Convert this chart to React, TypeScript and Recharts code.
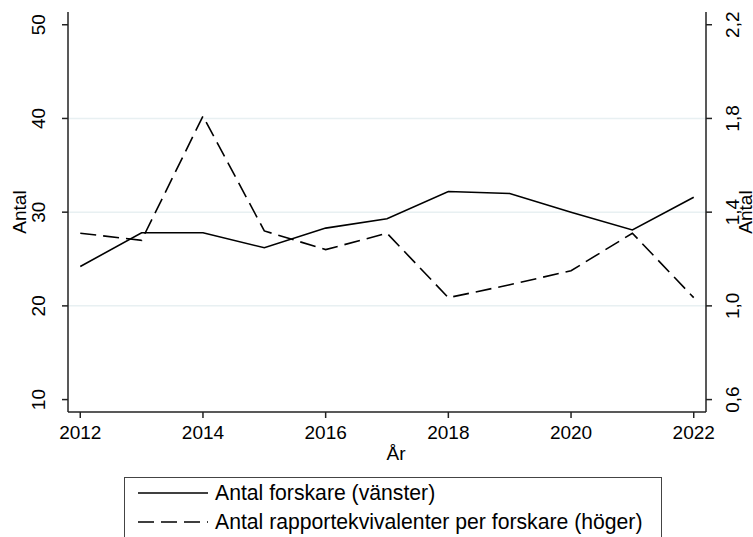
import { LineChart, Line, XAxis, YAxis, ReferenceLine, Legend } from 'recharts'

const years = [2012, 2013, 2014, 2015, 2016, 2017, 2018, 2019, 2020, 2021, 2022]
const forskare = [24.2, 27.8, 27.8, 26.2, 28.3, 29.3, 32.2, 32.0, 30.0, 28.1, 31.6]
const rapportPerForskare = [1.31, 1.28, 1.81, 1.32, 1.24, 1.31, 1.035, 1.09, 1.15, 1.31, 1.035]

const xTicks = [2012, 2014, 2016, 2018, 2020, 2022]
const leftTicks = [10, 20, 30, 40, 50]
const rightTicks = [0.6, 1.0, 1.4, 1.8, 2.2]
const gridValues = [20, 30, 40]

const seriesNames = ['Antal forskare (vänster)', 'Antal rapportekvivalenter per forskare (höger)']

const data = years.map((year, i) => ({
  year,
  forskare: forskare[i],
  rapport: rapportPerForskare[i],
}))

const FONT = "Arial, 'Liberation Sans', sans-serif"
const AXIS = '#222'
const DASH = '16 7'

const fmtComma = (v: number) => v.toFixed(1).replace('.', ',')

function LeftTick({ y, payload }: any) {
  return (
    <text transform={`translate(45,${y}) rotate(-90)`} textAnchor="middle"
      fontSize={19} fontFamily={FONT} fill="#000">
      {payload.value}
    </text>
  )
}

function RightTick({ y, payload }: any) {
  return (
    <text transform={`translate(738.5,${y}) rotate(-90)`} textAnchor="middle"
      fontSize={19} fontFamily={FONT} fill="#000">
      {fmtComma(payload.value)}
    </text>
  )
}

function BottomTick({ x, payload }: any) {
  return (
    <text x={x} y={439} textAnchor="middle" fontSize={19} fontFamily={FONT} fill="#000">
      {payload.value}
    </text>
  )
}

// vertical axis title, centred on the plot's middle
const axisTitle = (x: number) => ({ viewBox }: any) => {
  const cy = viewBox.y + viewBox.height / 2
  return (
    <text transform={`translate(${x},${cy}) rotate(-90)`} textAnchor="middle"
      fontSize={19} fontFamily={FONT} fill="#000">
      Antal
    </text>
  )
}

function LegendBox() {
  const row = (dash: string | undefined, label: string, top: number) => (
    <div style={{ position: 'absolute', left: 0, top, height: 24, display: 'flex', alignItems: 'center' }}>
      <svg width={90} height={4} style={{ display: 'block' }}>
        <line x1={13} y1={2} x2={83} y2={2} stroke="#000" strokeWidth={1.6} strokeDasharray={dash} />
      </svg>
      <span style={{ fontSize: 21.2, fontFamily: FONT, color: '#000', whiteSpace: 'nowrap' }}>{label}</span>
    </div>
  )
  return (
    <div style={{
      position: 'relative', width: 538, height: 60, boxSizing: 'border-box',
      borderTop: '1.5px solid #444', borderLeft: '1.5px solid #444', borderRight: '1.5px solid #444',
      background: '#fff',
    }}>
      {row(undefined, seriesNames[0], 3)}
      {row(DASH, seriesNames[1], 32)}
    </div>
  )
}

export default function App() {
  return (
    <div style={{ position: 'absolute', left: 0, top: 0, width: 753, height: 537, background: '#fff' }}>
      <LineChart width={753} height={537} data={data} margin={{ top: 12, right: 0, bottom: 0, left: 0 }}>
        {gridValues.map((g) => (
          <ReferenceLine key={g} yAxisId="left" y={g} stroke="#e8f0f2" strokeWidth={1.5} />
        ))}
        <XAxis
          dataKey="year"
          type="number"
          domain={[2011.8, 2022.2]}
          ticks={xTicks}
          height={65}
          axisLine={{ stroke: AXIS, strokeWidth: 1.5 }}
          tickLine={{ stroke: AXIS, strokeWidth: 1.5 }}
          tickSize={6}
          tick={<BottomTick />}
          interval={0}
          label={{ value: 'År', position: 'insideBottom', offset: 17, dx: 9, fontSize: 19, fontFamily: FONT, fill: '#000' }}
        />
        <YAxis
          yAxisId="left"
          orientation="left"
          domain={[8.675, 51.36]}
          ticks={leftTicks}
          width={68}
          allowDataOverflow
          axisLine={{ stroke: AXIS, strokeWidth: 1.5 }}
          tickLine={{ stroke: AXIS, strokeWidth: 1.5 }}
          tickSize={6}
          tick={<LeftTick />}
          interval={0}
          label={{ position: 'insideLeft', content: axisTitle(26) }}
        />
        <YAxis
          yAxisId="right"
          orientation="right"
          domain={[0.547, 2.2543]}
          ticks={rightTicks}
          width={47}
          allowDataOverflow
          axisLine={{ stroke: AXIS, strokeWidth: 1.5 }}
          tickLine={{ stroke: AXIS, strokeWidth: 1.5 }}
          tickSize={6}
          tick={<RightTick />}
          interval={0}
          label={{ position: 'insideRight', content: axisTitle(752) }}
        />
        <Line
          yAxisId="right"
          dataKey="rapport"
          name={seriesNames[1]}
          type="linear"
          stroke="#000"
          strokeWidth={1.6}
          strokeDasharray={DASH}
          dot={false}
          isAnimationActive={false}
        />
        <Line
          yAxisId="left"
          dataKey="forskare"
          name={seriesNames[0]}
          type="linear"
          stroke="#000"
          strokeWidth={1.6}
          dot={false}
          isAnimationActive={false}
        />
        <Legend
          verticalAlign="bottom"
          content={<LegendBox />}
          wrapperStyle={{ left: 124, width: 538, height: 60 }}
        />
      </LineChart>
    </div>
  )
}
